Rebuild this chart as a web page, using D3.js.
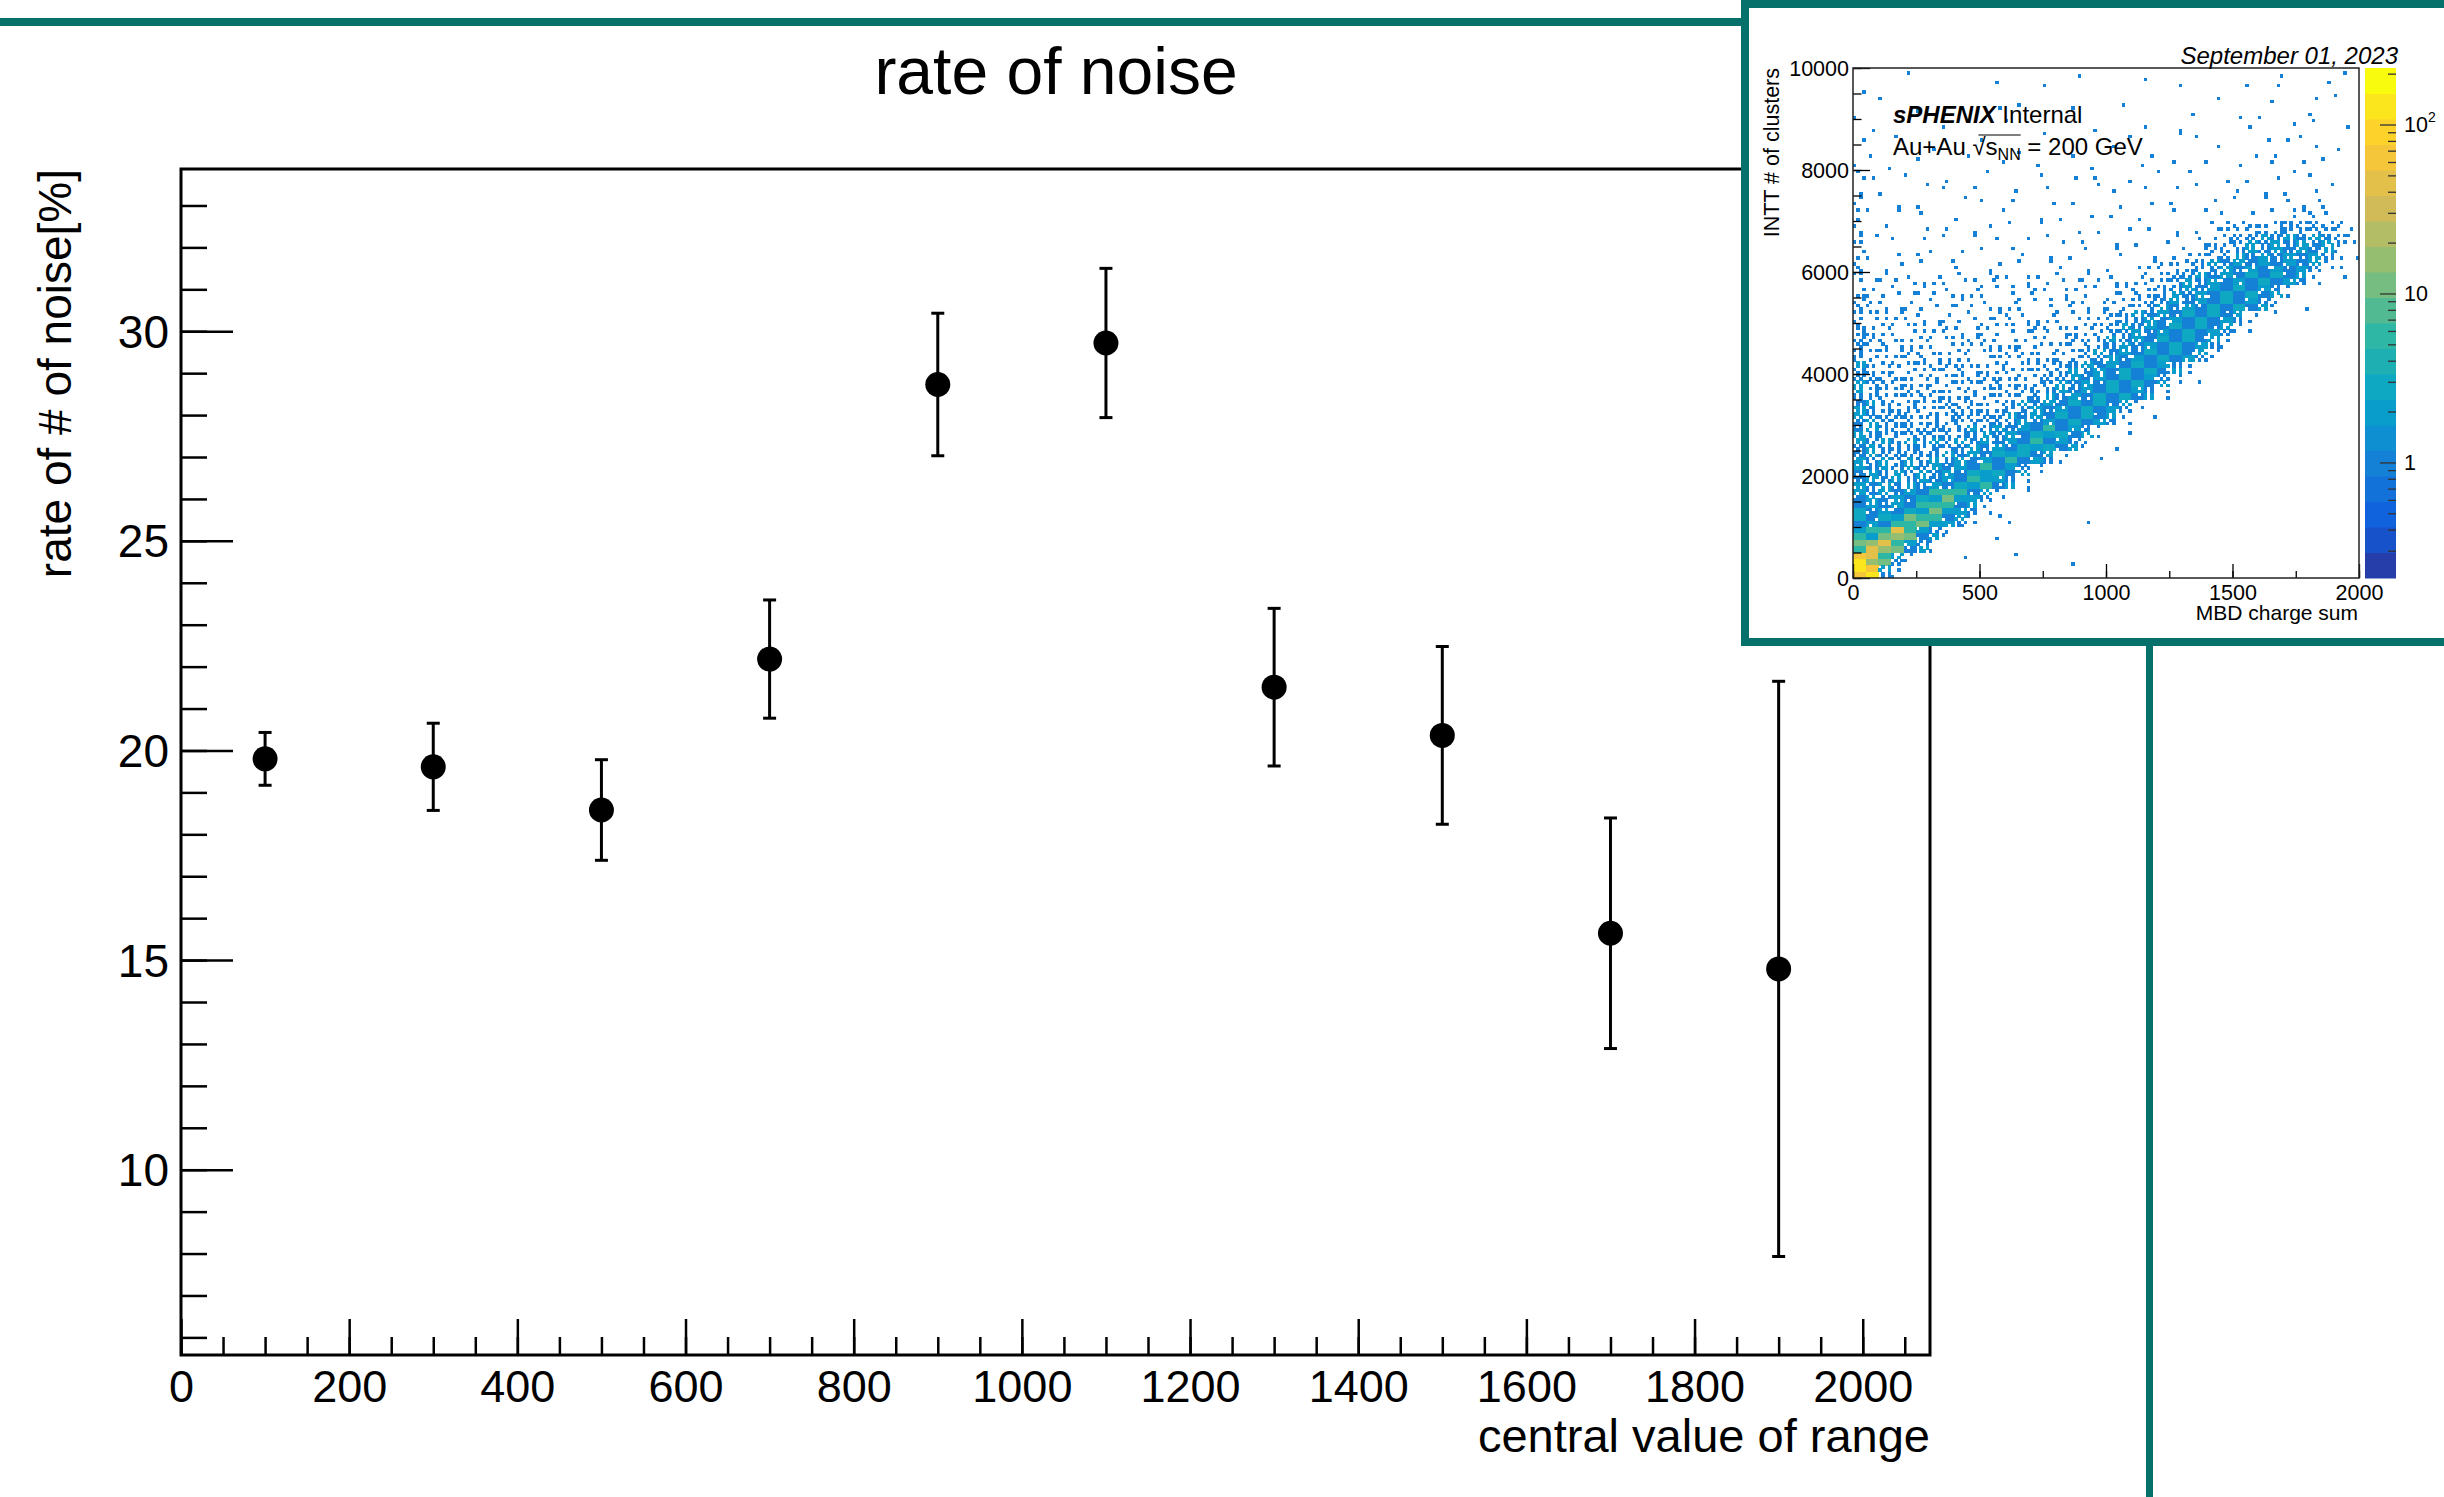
<!DOCTYPE html>
<html>
<head>
<meta charset="utf-8">
<script src="https://cdn.jsdelivr.net/npm/d3@7"></script>
<style>
  body { margin: 0; background: #fff; }
  svg { display: block; font-family: "Liberation Sans", Arial, Helvetica, sans-serif; }
</style>
</head>
<body>
<div id="chart"></div>
<script>
// Main graph: centre of each MBD charge range, noise rate [%] and its error
const centers = [100, 300, 500, 700, 900, 1100, 1300, 1500, 1700, 1900];
const rates = [19.80, 19.61, 18.58, 22.18, 28.73, 29.72, 21.51, 20.36, 15.64, 14.79];
const errors = [0.63, 1.04, 1.20, 1.41, 1.70, 1.78, 1.88, 2.12, 2.75, 6.86];
const xTicks = [0, 200, 400, 600, 800, 1000, 1200, 1400, 1600, 1800, 2000];
const yTicks = [10, 15, 20, 25, 30];

// Inset: INTT # of clusters vs MBD charge sum.
// One row per 250 clusters (top = 10000), one char per 50 MBD charge.
// '.' empty, '1'-'9' partly filled cells of low count, 'a'-'e' full cells with rising counts
const insetRows = [
  "....1..... .......1.. ...1...... ...1....1.",
  "1......... .1...1.... .....1.... .1.1...1..",
  "..1....... ...1...... .1......1. ...1..1.1.",
  "1....1.... .1.....1.. ......1... 1.1...1...",
  ".1.....1.. ..1......1 ...1.1.... .1..1.1..1",
  "1..1...... 1....1.... .1...1.1.. ..1.11....",
  ".1....1..1 ...1...1.. 1..1....1. .1.1..1.1.",
  "1.1..1.... .1..1...1. ..1..1.1.. 1..1.1.1..",
  "21..1..1.. 1...1..1.1 .1..1.1..1 .1.11.1...",
  "1.1..1.1.1 ..1..1...1 1..1.1.1.. 1.1.1.11..",
  "2..1.1..1. 1.1..1.1.. .1.1.1..1. 1.1.1111..",
  "21.1.1..1. .1..1.1.1. 1.1..1.1.1 .1.12121..",
  "2.1..1.1.1 1.1.1..1.1 .1.1.1.123 3445555431",
  "31.1.1.1.1 .1.1.11.1. 1.1.11.234 5667777652",
  "21.1.11.1. 1.11.1.11. 11.1.12345 6778888621",
  "3.11.1.11. 11.1.11.1. 1.12234567 889999621.",
  "3121212121 1212112121 2123456789 9aaa962.1.",
  "3212121212 2121212121 223456789a aa962.....",
  "4221212121 2122121222 33456789aa a962.1....",
  "4322121212 1222122222 456789aaa9 62.1......",
  "5332322222 3232323334 56789aaa96 21........",
  "5333232323 3232323345 6789aaa962 ..........",
  "5433333232 3333333456 789aaa962. ..........",
  "6443434343 3434345678 9aaa962... ..........",
  "6544444444 4444456789 aaa962.1.. ..........",
  "6544444444 444456789a aa962..... ..........",
  "7654544545 4456789aaa 962....... ..........",
  "7655545455 556789aaa9 62.1...... ..........",
  "7655555556 6789aba962 .1........ ..........",
  "7665656566 789aba962. 1......... ..........",
  "8665656678 9aba962..1 .......... ..........",
  "876666789a ba962..... .......... ..........",
  "87666789ab b962...... .......... ..........",
  "97789abcb9 62.1...... .......... ..........",
  "a889abcb96 2......... .......... ..........",
  "a9abccb962 .11.....1. .......... ..........",
  "bbcdc962.. .1........ .......... ..........",
  "cddc962... .......... .......... ..........",
  "edc62...1. ..1....1.. .......... ..........",
  "ee62...... .......... .......... .........."
];
// [filled bins out of 16, low count, high count] for each cell char
const cellLevels = {
  "1": [1, 1, 1], "2": [2, 1, 1], "3": [3, 1, 1], "4": [4, 1, 1], "5": [6, 1, 1],
  "6": [8, 1, 2], "7": [10, 1, 2], "8": [12, 1, 2], "9": [14, 1, 2],
  "a": [16, 1, 3], "b": [16, 2, 5], "c": [16, 5, 12], "d": [16, 15, 40], "e": [16, 60, 150]
};
const insetXTicks = [0, 500, 1000, 1500, 2000];
const insetYTicks = [0, 2000, 4000, 6000, 8000, 10000];
const zTicks = [1, 10, 100];
const zRange = [0.207, 216];
// ROOT kBird palette stops
const birdStops = ["#352a87", "#0f5cdd", "#1481d6", "#06a4ca", "#2eb7a4", "#87bf77", "#d1bb59", "#fec832", "#f9fb0e"];

const W = 2444, H = 1497;
const teal = "#06706a";
const svg = d3.select("#chart").append("svg")
    .attr("width", W)
    .attr("height", H);

// teal slide decoration line
svg.append("rect").attr("x", 0).attr("y", 18).attr("width", 1745).attr("height", 8).attr("fill", teal);

// ---------- main graph ----------
const frame = {left: 181, right: 1930, top: 169, bottom: 1355};
const x = d3.scaleLinear().domain([0, 2080]).range([frame.left, frame.right]);
const y = d3.scaleLinear().domain([5.58, 33.87]).range([frame.bottom, frame.top]);

svg.append("text")
    .attr("x", 1056).attr("y", 94)
    .attr("text-anchor", "middle")
    .style("font-size", "66px")
    .text("rate of noise");

// X axis, ticks pointing up into the frame
const gx = svg.append("g").attr("transform", `translate(0,${frame.bottom})`);
gx.append("g")
    .call(d3.axisBottom(x).tickValues(d3.range(0, 2081, 50)).tickSize(-18).tickFormat(""));
gx.append("g")
    .call(d3.axisBottom(x).tickValues(xTicks).tickSize(-36).tickPadding(15).tickFormat(d3.format("d")));
gx.selectAll(".domain").remove();
gx.selectAll("line").attr("stroke", "#000").attr("stroke-width", 2.5);
gx.selectAll("text").style("font-size", "45px").attr("fill", "#000");

// Y axis
const gy = svg.append("g").attr("transform", `translate(${frame.left},0)`);
gy.append("g")
    .call(d3.axisLeft(y).tickValues(d3.range(6, 34)).tickSize(-26).tickFormat(""));
gy.append("g")
    .call(d3.axisLeft(y).tickValues(yTicks).tickSize(-52).tickPadding(12));
gy.selectAll(".domain").remove();
gy.selectAll("line").attr("stroke", "#000").attr("stroke-width", 2.5);
gy.selectAll("text").style("font-size", "46px").attr("fill", "#000").attr("dy", "0.35em");

// frame
svg.append("rect")
    .attr("x", frame.left).attr("y", frame.top)
    .attr("width", frame.right - frame.left).attr("height", frame.bottom - frame.top)
    .attr("fill", "none").attr("stroke", "#000").attr("stroke-width", 3);

// axis titles
svg.append("text")
    .attr("x", frame.right).attr("y", 1452)
    .attr("text-anchor", "end")
    .style("font-size", "47px")
    .text("central value of range");
svg.append("text")
    .attr("transform", `translate(71,${frame.top}) rotate(-90)`)
    .attr("text-anchor", "end")
    .style("font-size", "46px")
    .text("rate of # of noise[%]");

// points with error bars
const points = centers.map((c, i) => ({x: c, y: rates[i], e: errors[i]}));
const pts = svg.append("g").selectAll("g").data(points).join("g");
pts.append("line")
    .attr("x1", d => x(d.x)).attr("x2", d => x(d.x))
    .attr("y1", d => y(d.y - d.e)).attr("y2", d => y(d.y + d.e))
    .attr("stroke", "#000").attr("stroke-width", 3);
pts.selectAll(".cap").data(d => [[d.x, d.y - d.e], [d.x, d.y + d.e]]).join("line")
    .attr("class", "cap")
    .attr("x1", d => x(d[0]) - 6.5).attr("x2", d => x(d[0]) + 6.5)
    .attr("y1", d => y(d[1])).attr("y2", d => y(d[1]))
    .attr("stroke", "#000").attr("stroke-width", 3);
pts.append("circle")
    .attr("cx", d => x(d.x)).attr("cy", d => y(d.y))
    .attr("r", 12.5).attr("fill", "#000");

// ---------- inset ----------
svg.append("rect")
    .attr("x", 2146).attr("y", 642).attr("width", 7).attr("height", 900)
    .attr("fill", teal);
svg.append("rect")
    .attr("x", 1745).attr("y", 4).attr("width", 1000).attr("height", 638)
    .attr("fill", "#fff").attr("stroke", teal).attr("stroke-width", 8);

const inset = svg.append("g").style("font-size", "21.5px");
const ix = d3.scaleLinear().domain([0, 2000]).range([1853, 2359]);
const iy = d3.scaleLinear().domain([0, 10000]).range([578, 68]);
const zNorm = d3.scaleLog().domain(zRange).range([0, 1]);
const palette = d3.scaleLinear()
    .domain(d3.range(birdStops.length).map(i => i / (birdStops.length - 1)))
    .range(birdStops);
// 20 contour bands, colour taken the way ROOT picks it from the palette
const bandColor = i => palette(Math.min(1, (i + 0.99) / 20));
const zColor = n => bandColor(Math.min(19, Math.floor(zNorm(n) * 20)));

// 4x4 ordered dither picks which bins of a cell are filled;
// its phase moves from cell to cell so single hits don't line up
const bayer = [[0, 8, 2, 10], [12, 4, 14, 6], [3, 11, 1, 9], [15, 7, 13, 5]];
const bins = [];
insetRows.forEach((row, r) => {
  row.replace(/ /g, "").padEnd(40, ".").split("").forEach((ch, c) => {
    const lvl = cellLevels[ch];
    if (!lvl) return;
    const phase = (c * 7 + r * 11) % 16;
    for (let j = 0; j < 4; j++) {
      for (let i = 0; i < 4; i++) {
        const b = (bayer[j][i] + phase) % 16;
        if (b >= lvl[0]) continue;
        bins.push({mbd: c * 50 + i * 12.5, clu: 10000 - r * 250 - (j + 1) * 62.5, n: b % 2 ? lvl[2] : lvl[1]});
      }
    }
  });
});
inset.append("g")
    .attr("shape-rendering", "crispEdges")
    .selectAll("rect").data(bins).join("rect")
    .attr("x", d => ix(d.mbd))
    .attr("y", d => iy(d.clu + 62.5))
    .attr("width", ix(12.5) - ix(0) + 0.3)
    .attr("height", iy(0) - iy(62.5) + 0.3)
    .attr("fill", d => zColor(d.n));

// inset axes
const igx = inset.append("g").attr("transform", "translate(0,578)");
igx.append("g").call(d3.axisBottom(ix).tickValues(d3.range(0, 2001, 250)).tickSize(-7).tickFormat(""));
igx.append("g").call(d3.axisBottom(ix).tickValues(insetXTicks).tickSize(-14).tickPadding(7).tickFormat(d3.format("d")));
const igy = inset.append("g").attr("transform", "translate(1853,0)");
igy.append("g").call(d3.axisLeft(iy).tickValues(d3.range(0, 10001, 500)).tickSize(-8.5).tickFormat(""));
igy.append("g").call(d3.axisLeft(iy).tickValues(insetYTicks).tickSize(-17).tickPadding(4).tickFormat(d3.format("d")));
inset.selectAll(".domain").remove();
inset.selectAll(".tick line").attr("stroke", "#000").attr("stroke-width", 1.3);
inset.selectAll(".tick text").attr("fill", "#000").style("font-size", "21.5px");
igy.selectAll(".tick text").attr("dy", "0.35em");

inset.append("rect")
    .attr("x", 1853).attr("y", 68).attr("width", 506).attr("height", 510)
    .attr("fill", "none").attr("stroke", "#222").attr("stroke-width", 1.5);

// colour scale
const zy = d3.scaleLog().domain(zRange).range([578, 68]);
const band = d3.scaleLinear().domain([0, 20]).range([578, 68]);
inset.append("g").selectAll("rect").data(d3.range(20)).join("rect")
    .attr("x", 2365).attr("width", 31)
    .attr("y", i => band(i + 1)).attr("height", i => band(i) - band(i + 1) + 0.5)
    .attr("fill", i => bandColor(i));
const minorZ = [0.3, 0.4, 0.5, 0.6, 0.7, 0.8, 0.9, 2, 3, 4, 5, 6, 7, 8, 9, 20, 30, 40, 50, 60, 70, 80, 90, 200];
const gz = inset.append("g").attr("transform", "translate(2396,0)");
gz.append("g").call(d3.axisRight(zy).tickValues(minorZ).tickSize(-8).tickFormat(""));
gz.append("g").call(d3.axisRight(zy).tickValues(zTicks).tickSize(-16).tickFormat(""));
gz.selectAll(".domain").remove();
gz.selectAll(".tick line").attr("stroke", "#333").attr("stroke-width", 1.3);
const zlab = inset.append("g").selectAll("text").data(zTicks).join("text")
    .attr("x", 2404).attr("y", d => zy(d)).attr("dy", "0.35em")
    .text(d => d === 100 ? "10" : d);
zlab.filter(d => d === 100).append("tspan")
    .attr("dy", "-0.75em").style("font-size", "14px").text("2");

// inset labels
inset.append("text")
    .attr("x", 2398).attr("y", 64).attr("text-anchor", "end")
    .style("font-size", "24px").style("font-style", "italic")
    .text("September 01, 2023");
inset.append("text")
    .attr("transform", "translate(1779,68) rotate(-90)")
    .attr("text-anchor", "end")
    .text("INTT # of clusters");
inset.append("text")
    .attr("x", 2358).attr("y", 620).attr("text-anchor", "end")
    .style("font-size", "21px")
    .text("MBD charge sum");

const tag = inset.append("text")
    .attr("x", 1893).attr("y", 123)
    .style("font-size", "24px");
tag.append("tspan").style("font-weight", "bold").style("font-style", "italic").text("sPHENIX");
tag.append("tspan").text(" Internal");

const energy = inset.append("text")
    .attr("x", 1893).attr("y", 155)
    .style("font-size", "24px");
energy.append("tspan").text("Au+Au \u221A");
energy.append("tspan").text("s");
energy.append("tspan").attr("dy", 5).style("font-size", "16px").text("NN");
energy.append("tspan").attr("dy", -5).text(" = 200 GeV");
const en = energy.node();
const ovX1 = en.getStartPositionOfChar(6).x + 6;
const ovX2 = en.getEndPositionOfChar(9).x;
inset.append("line")
    .attr("x1", ovX1).attr("x2", ovX2)
    .attr("y1", 135).attr("y2", 135)
    .attr("stroke", "#000").attr("stroke-width", 1.2);
</script>
</body>
</html>
